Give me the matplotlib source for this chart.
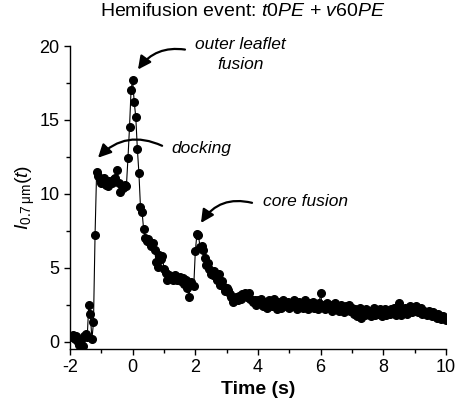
import numpy as np
import matplotlib
matplotlib.use("Agg")
import matplotlib.pyplot as plt
from matplotlib.ticker import MultipleLocator

plt.rcParams['font.family'] = ['Liberation Sans', 'DejaVu Sans']
plt.rcParams['mathtext.fontset'] = 'custom'
plt.rcParams['mathtext.rm'] = 'Liberation Sans'
plt.rcParams['mathtext.it'] = 'Liberation Sans:italic'
plt.rcParams['mathtext.bf'] = 'Liberation Sans:bold'
plt.rcParams['axes.unicode_minus'] = False

# Intensity trace, sampled every 0.05 s starting at t = -2 s
t_start = -2.0
dt = 0.05
baseline = [0.4, 0.3, 0.45, 0.2, 0.35, 0.0, -0.25, 0.1, -0.3, 0.4, 0.5, 0.3,
            2.5, 1.85, 0.15, 1.3, 7.2]
docking = [11.5, 11.2, 11.0, 10.7, 10.9, 11.1, 10.6, 10.5, 10.9, 10.8, 10.7,
           11.0, 11.1, 11.6, 10.7, 10.1, 10.5, 10.4, 10.6, 10.5]
outer_leaflet = [12.4, 14.5, 17.05, 17.7, 16.2, 15.2, 13.05, 11.4, 9.1, 8.8,
                 7.6, 7.0, 6.8, 6.95, 6.7, 6.5, 6.7, 6.2, 5.4, 5.07, 5.85, 5.6,
                 5.8, 4.9, 4.67, 4.17, 4.5, 4.3, 4.4, 4.2, 4.5, 4.17, 4.3, 4.4,
                 4.1, 4.3, 3.9, 4.2, 3.6, 3.05, 4.0, 3.8, 3.75]
core = [6.1, 7.27, 7.2, 6.4, 6.5, 6.2, 5.65, 5.2, 5.3, 4.9, 4.6, 4.5, 4.8, 4.4,
        4.2, 4.55, 3.85, 4.1, 3.7, 3.4, 3.6, 3.5, 3.2, 3.0, 2.7, 2.9, 3.0, 2.8,
        3.1, 2.9, 3.2, 3.25, 3.3, 3.0, 3.3, 2.9, 2.8, 2.7, 2.8, 2.5, 2.8]
tail = [2.6, 2.9, 2.4, 2.7, 2.5, 2.3, 2.8, 2.6, 2.4, 2.9, 2.5, 2.2, 2.7, 2.6,
        2.3, 2.8, 2.5, 2.4, 2.7, 2.3,
        2.6, 2.4, 2.8, 2.5, 2.2, 2.7, 2.4, 2.6, 2.3, 2.8, 2.5, 2.2, 2.6, 2.4,
        2.7, 2.3, 2.5, 2.2, 2.6, 3.27,
        2.4, 2.5, 2.2, 2.6, 2.3, 2.5, 2.1, 2.4, 2.6, 2.2, 2.4, 2.1, 2.5, 2.3,
        2.0, 2.4, 2.2, 2.5, 2.1, 2.3,
        1.9, 2.2, 1.7, 2.1, 2.3, 1.6, 2.0, 1.8, 2.2, 1.9, 2.1, 1.7, 2.0, 2.3,
        1.8, 2.1, 1.9, 2.2, 1.7, 2.0,
        2.2, 1.8, 2.1, 1.9, 2.2, 2.0, 2.3, 1.8, 2.1, 2.6, 1.8, 2.2, 2.0, 2.3,
        1.9, 2.2, 2.4, 2.0, 2.3, 2.1,
        2.4, 2.0, 2.2, 2.3, 1.9, 2.1, 2.0, 1.8, 2.1, 1.9, 1.7, 2.0, 1.8, 1.6,
        1.9, 1.7, 1.5, 1.7, 1.6, 1.45]

intensity = np.array(baseline + docking + outer_leaflet + core + tail)
time = t_start + dt * np.arange(len(intensity))

fig = plt.figure(figsize=(4.55, 4.09), dpi=100)
ax = fig.add_axes([0.1538, 0.1467, 0.8264, 0.7408])

ax.plot(time, intensity, color='black', lw=0.8, marker='o', markersize=5.5,
        markerfacecolor='black', markeredgecolor='black')

ax.set_xlim(-2, 10)
ax.set_ylim(-0.5, 20)
ax.xaxis.set_major_locator(MultipleLocator(2))
ax.xaxis.set_minor_locator(MultipleLocator(1))
ax.yaxis.set_major_locator(MultipleLocator(5))
ax.yaxis.set_minor_locator(MultipleLocator(2.5))
ax.tick_params(which='both', direction='out', width=1, labelsize=13)
ax.tick_params(which='major', length=4)
ax.tick_params(which='minor', length=3)
for s in ['top', 'right']:
    ax.spines[s].set_visible(False)
for s in ['left', 'bottom']:
    ax.spines[s].set_linewidth(1)

ax.set_xlabel("Time (s)", fontsize=14, fontweight='bold', labelpad=3)
ax.set_ylabel(r"$I_{0.7\,\mathrm{\mu m}}(t)$", fontsize=14, labelpad=2)

fig.text(0.534, 0.971, r"Hemifusion event: $\mathit{t0PE}$ + $\mathit{v60PE}$",
         ha='center', va='center', fontsize=14)

# annotations
arrow = dict(arrowstyle='-|>,head_length=0.6,head_width=0.3', color='black',
             lw=1.6, mutation_scale=13, shrinkA=0, shrinkB=0)
ax.annotate("", xy=(0.17, 18.41), xytext=(1.67, 19.76),
            arrowprops=dict(arrow, connectionstyle='arc3,rad=0.3'),
            annotation_clip=False)
ax.text(3.43, 19.42, "outer leaflet\nfusion", ha='center', va='center',
        style='italic', fontsize=12.5, linespacing=1.35, clip_on=False)

ax.annotate("", xy=(-1.106, 12.44), xytext=(0.94, 13.25),
            arrowprops=dict(arrow, connectionstyle='arc3,rad=0.35'))
ax.text(1.25, 13.05, "docking", ha='left', va='center', style='italic',
        fontsize=12.5)

ax.annotate("", xy=(2.18, 8.03), xytext=(3.81, 9.39),
            arrowprops=dict(arrow, connectionstyle='arc3,rad=0.35'))
ax.text(4.15, 9.48, "core fusion", ha='left', va='center', style='italic',
        fontsize=12.5)

fig.savefig("out.png", dpi=100)
